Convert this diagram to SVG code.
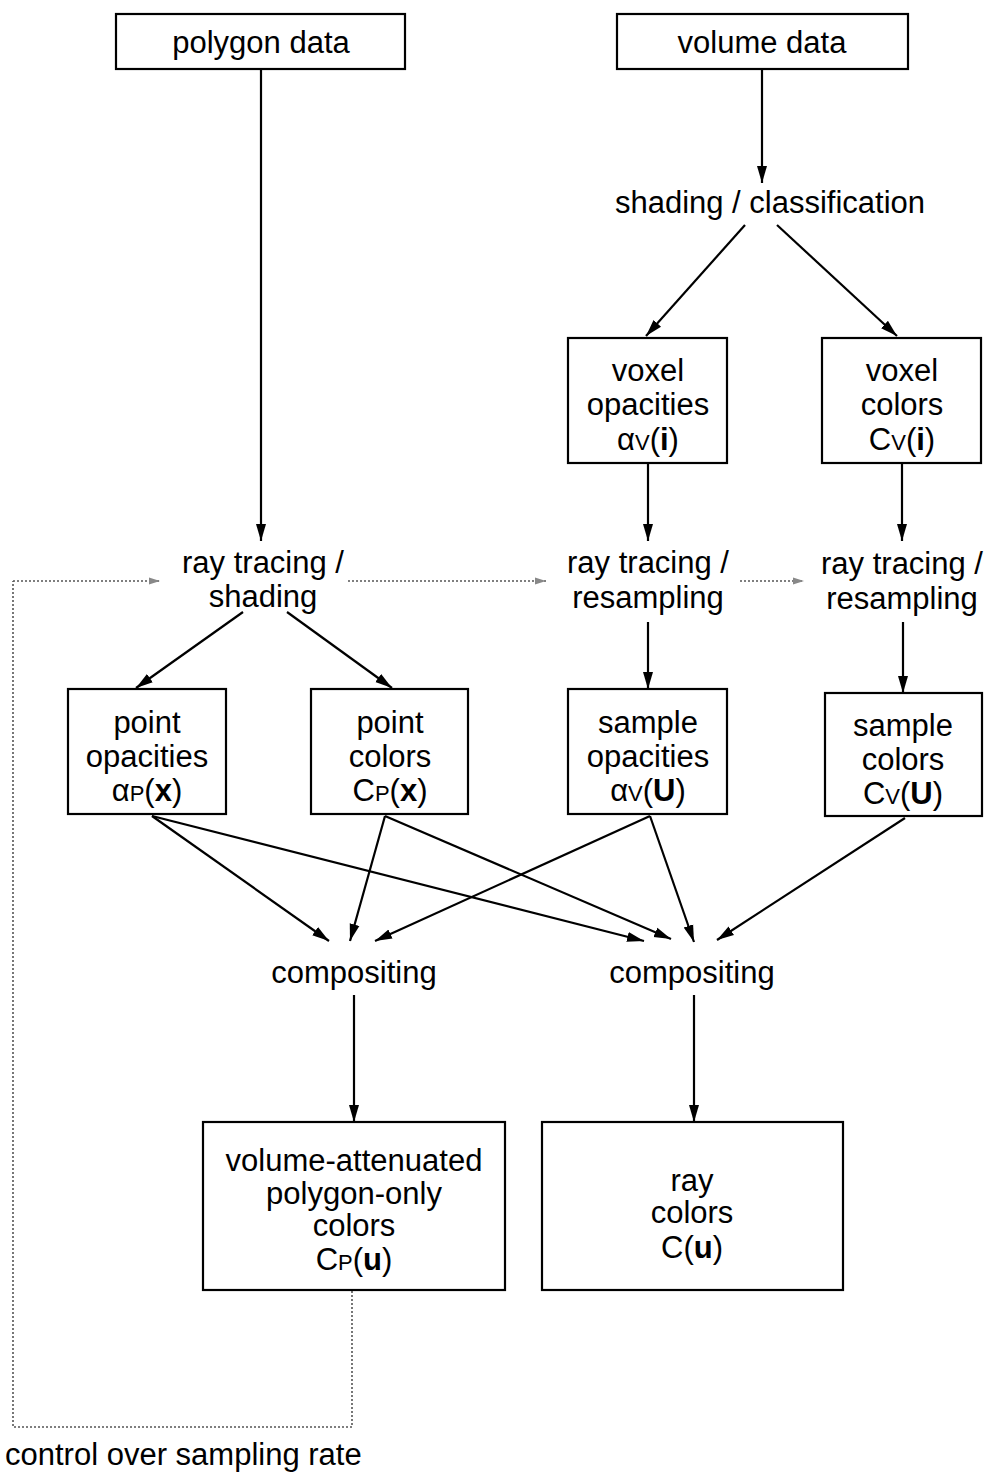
<svg xmlns="http://www.w3.org/2000/svg" width="984" height="1472" viewBox="0 0 984 1472">
<style>
.box{fill:#fff;stroke:#000;stroke-width:2.2}
.t{font-family:"Liberation Sans",Arial,sans-serif;font-size:31px;fill:#000;text-anchor:middle}
.sub{font-size:22px}
.b{font-weight:bold}
.c{stroke:#000;stroke-width:2.2;fill:none;marker-end:url(#ah)}
.d{stroke:#555;stroke-width:1.6;fill:none;stroke-dasharray:2,2}
.da{marker-end:url(#gh)}
</style>
<defs>
<marker id="ah" markerUnits="userSpaceOnUse" markerWidth="18" markerHeight="12" refX="17" refY="6" orient="auto">
<path d="M0,1 L17,6 L0,11 z" fill="#000"/>
</marker>
<marker id="gh" markerUnits="userSpaceOnUse" markerWidth="12" markerHeight="8" refX="11" refY="4" orient="auto">
<path d="M0,0.5 L11,4 L0,7.5 z" fill="#888"/>
</marker>
</defs>
<rect width="984" height="1472" fill="#fff"/>

<g id="connectors">
<line class="c" x1="261" y1="70" x2="261" y2="541"/>
<line class="c" x1="762" y1="70" x2="762" y2="183"/>
<line class="c" x1="745" y1="225" x2="646" y2="336"/>
<line class="c" x1="777" y1="225" x2="897" y2="336"/>
<line class="c" x1="648" y1="464" x2="648" y2="541"/>
<line class="c" x1="902" y1="464" x2="902" y2="541"/>
<line class="c" x1="243" y1="612" x2="136" y2="688"/>
<line class="c" x1="287" y1="612" x2="392" y2="688"/>
<line class="c" x1="648" y1="622" x2="648" y2="689"/>
<line class="c" x1="903" y1="622" x2="903" y2="693"/>
<line class="c" x1="152" y1="816" x2="329" y2="941"/>
<line class="c" x1="152" y1="816" x2="644" y2="941"/>
<line class="c" x1="385" y1="816" x2="350" y2="941"/>
<line class="c" x1="385" y1="816" x2="671" y2="939"/>
<line class="c" x1="650" y1="816" x2="375" y2="941"/>
<line class="c" x1="650" y1="816" x2="694" y2="942"/>
<line class="c" x1="905" y1="818" x2="717" y2="940"/>
<line class="c" x1="354" y1="995" x2="354" y2="1122"/>
<line class="c" x1="694" y1="995" x2="694" y2="1122"/>
<path class="d" d="M352,1291 V1427 H13 V581"/>
<path class="d da" d="M13,581 H160"/>
<path class="d da" d="M348,581 H546"/>
<path class="d da" d="M740,581 H804"/>
</g>

<g id="polygon-data">
<rect class="box" x="116" y="14" width="289" height="55"/>
<text class="t" x="261" y="53">polygon data</text>
</g>
<g id="volume-data">
<rect class="box" x="617" y="14" width="291" height="55"/>
<text class="t" x="762" y="53">volume data</text>
</g>
<g id="shading-classification">
<text class="t" x="770" y="213">shading / classification</text>
</g>
<g id="voxel-opacities">
<rect class="box" x="568" y="338" width="159" height="125"/>
<text class="t" x="648" y="381">voxel</text>
<text class="t" x="648" y="415">opacities</text>
<text class="t" x="648" y="450">α<tspan class="sub">V</tspan>(<tspan class="b">i</tspan>)</text>
</g>
<g id="voxel-colors">
<rect class="box" x="822" y="338" width="159" height="125"/>
<text class="t" x="902" y="381">voxel</text>
<text class="t" x="902" y="415">colors</text>
<text class="t" x="902" y="450">C<tspan class="sub">V</tspan>(<tspan class="b">i</tspan>)</text>
</g>
<g id="ray-tracing-shading">
<text class="t" x="263" y="573">ray tracing /</text>
<text class="t" x="263" y="607">shading</text>
</g>
<g id="ray-tracing-resampling-1">
<text class="t" x="648" y="573">ray tracing /</text>
<text class="t" x="648" y="608">resampling</text>
</g>
<g id="ray-tracing-resampling-2">
<text class="t" x="902" y="574">ray tracing /</text>
<text class="t" x="902" y="609">resampling</text>
</g>
<g id="point-opacities">
<rect class="box" x="68" y="689" width="158" height="125"/>
<text class="t" x="147" y="733">point</text>
<text class="t" x="147" y="767">opacities</text>
<text class="t" x="147" y="801">α<tspan class="sub">P</tspan>(<tspan class="b">x</tspan>)</text>
</g>
<g id="point-colors">
<rect class="box" x="311" y="689" width="157" height="125"/>
<text class="t" x="390" y="733">point</text>
<text class="t" x="390" y="767">colors</text>
<text class="t" x="390" y="801">C<tspan class="sub">P</tspan>(<tspan class="b">x</tspan>)</text>
</g>
<g id="sample-opacities">
<rect class="box" x="568" y="689" width="159" height="125"/>
<text class="t" x="648" y="733">sample</text>
<text class="t" x="648" y="767">opacities</text>
<text class="t" x="648" y="801">α<tspan class="sub">V</tspan>(<tspan class="b">U</tspan>)</text>
</g>
<g id="sample-colors">
<rect class="box" x="825" y="693" width="157" height="123"/>
<text class="t" x="903" y="736">sample</text>
<text class="t" x="903" y="770">colors</text>
<text class="t" x="903" y="804">C<tspan class="sub">V</tspan>(<tspan class="b">U</tspan>)</text>
</g>
<g id="compositing-left">
<text class="t" x="354" y="983">compositing</text>
</g>
<g id="compositing-right">
<text class="t" x="692" y="983">compositing</text>
</g>
<g id="polygon-only-colors">
<rect class="box" x="203" y="1122" width="302" height="168"/>
<text class="t" x="354" y="1171">volume-attenuated</text>
<text class="t" x="354" y="1204">polygon-only</text>
<text class="t" x="354" y="1236">colors</text>
<text class="t" x="354" y="1270">C<tspan class="sub">P</tspan>(<tspan class="b">u</tspan>)</text>
</g>
<g id="ray-colors">
<rect class="box" x="542" y="1122" width="301" height="168"/>
<text class="t" x="692" y="1191">ray</text>
<text class="t" x="692" y="1223">colors</text>
<text class="t" x="692" y="1258">C(<tspan class="b">u</tspan>)</text>
</g>
<g id="control-label">
<text class="t" x="5" y="1465" style="text-anchor:start">control over sampling rate</text>
</g>
</svg>
